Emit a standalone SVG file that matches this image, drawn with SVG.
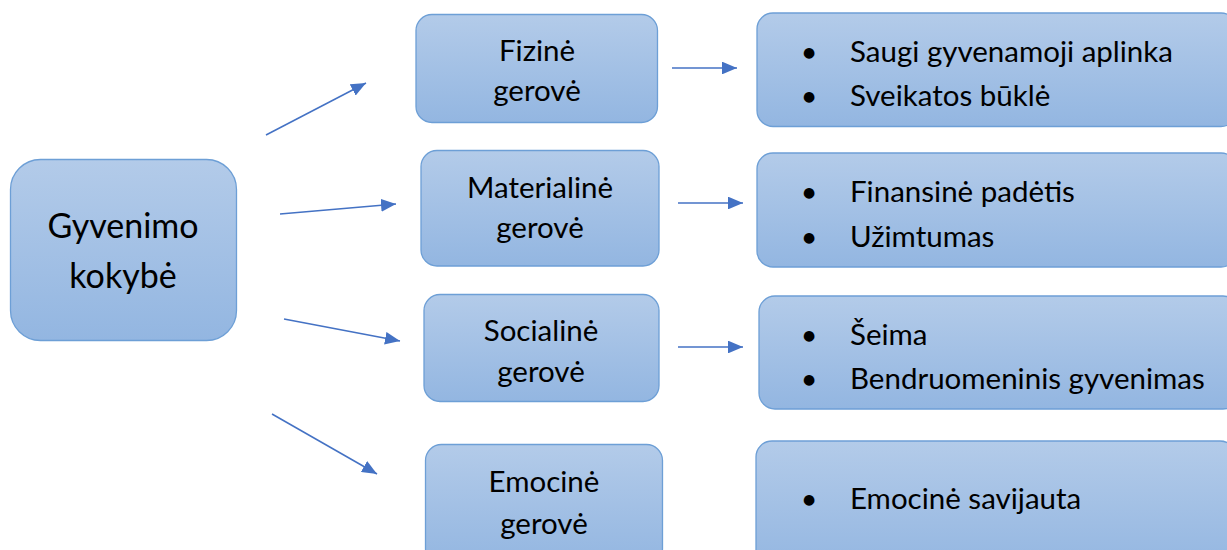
<svg xmlns="http://www.w3.org/2000/svg" width="1227" height="550" viewBox="0 0 1227 550">
<defs>
<linearGradient id="g" x1="0" y1="0" x2="0" y2="1">
<stop offset="0" stop-color="#b3cbe9"/>
<stop offset="1" stop-color="#93b6e1"/>
</linearGradient>
<marker id="ah" viewBox="0 0 10 10" refX="10" refY="5" markerWidth="10" markerHeight="8.5" orient="auto" markerUnits="strokeWidth" preserveAspectRatio="none">
<path d="M0,0 L10,5 L0,10 z" fill="#4472c4"/>
</marker>
<style>
.box{fill:url(#g);stroke:#6d9fd6;stroke-width:1.3}
.t{font-family:Lato,"Noto Sans",sans-serif;font-size:29.5px;fill:#000}
.c{text-anchor:middle}
.m{font-size:34px}
.b{font-family:"DejaVu Sans",sans-serif;font-size:14px}
.a{stroke:#4472c4;stroke-width:1.5;fill:none;marker-end:url(#ah)}
</style>
</defs>
<rect width="1227" height="550" fill="#fff"/>
<g id="connectors">
<line class="a" x1="266" y1="135" x2="366" y2="83"/>
<line class="a" x1="280" y1="214" x2="396" y2="204"/>
<line class="a" x1="284" y1="319" x2="400" y2="341"/>
<line class="a" x1="272" y1="414" x2="377" y2="474"/>
<line class="a" x1="672" y1="68" x2="737" y2="68"/>
<line class="a" x1="678" y1="203" x2="743" y2="203"/>
<line class="a" x1="678" y1="347" x2="743" y2="347"/>
</g>
<g id="main">
<rect class="box" x="10.5" y="159.5" width="226" height="181" rx="30"/>
<text class="t c m" x="123" y="238">Gyvenimo</text>
<text class="t c m" x="123" y="288">kokybė</text>
</g>
<g id="fizine">
<rect class="box" x="416" y="14.5" width="241.5" height="108" rx="16"/>
<text class="t c" x="537" y="61">Fizinė</text>
<text class="t c" x="537" y="101">gerovė</text>
</g>
<g id="materialine">
<rect class="box" x="421" y="150.5" width="238" height="115.5" rx="16"/>
<text class="t c" x="540" y="198">Materialinė</text>
<text class="t c" x="540" y="238">gerovė</text>
</g>
<g id="socialine">
<rect class="box" x="424" y="294.5" width="235" height="107" rx="16"/>
<text class="t c" x="541" y="341">Socialinė</text>
<text class="t c" x="541" y="382">gerovė</text>
</g>
<g id="emocine">
<rect class="box" x="425.5" y="444.5" width="237" height="120" rx="16"/>
<text class="t c" x="544" y="492">Emocinė</text>
<text class="t c" x="544" y="534">gerovė</text>
</g>
<g id="fizine-list">
<rect class="box" x="757" y="13" width="480" height="113.5" rx="16"/>
<text class="b" x="803" y="57">●</text>
<text class="t" x="850" y="62">Saugi gyvenamoji aplinka</text>
<text class="b" x="803" y="101">●</text>
<text class="t" x="850" y="106">Sveikatos būklė</text>
</g>
<g id="materialine-list">
<rect class="box" x="757" y="153" width="480" height="114" rx="16"/>
<text class="b" x="803" y="197">●</text>
<text class="t" x="850" y="202">Finansinė padėtis</text>
<text class="b" x="803" y="242">●</text>
<text class="t" x="850" y="247">Užimtumas</text>
</g>
<g id="socialine-list">
<rect class="box" x="759" y="296" width="480" height="113" rx="16"/>
<text class="b" x="803" y="340">●</text>
<text class="t" x="850" y="345">Šeima</text>
<text class="b" x="803" y="384">●</text>
<text class="t" x="850" y="389">Bendruomeninis gyvenimas</text>
</g>
<g id="emocine-list">
<rect class="box" x="756" y="441" width="480" height="130" rx="16"/>
<text class="b" x="803" y="504">●</text>
<text class="t" x="850" y="509">Emocinė savijauta</text>
</g>
</svg>
